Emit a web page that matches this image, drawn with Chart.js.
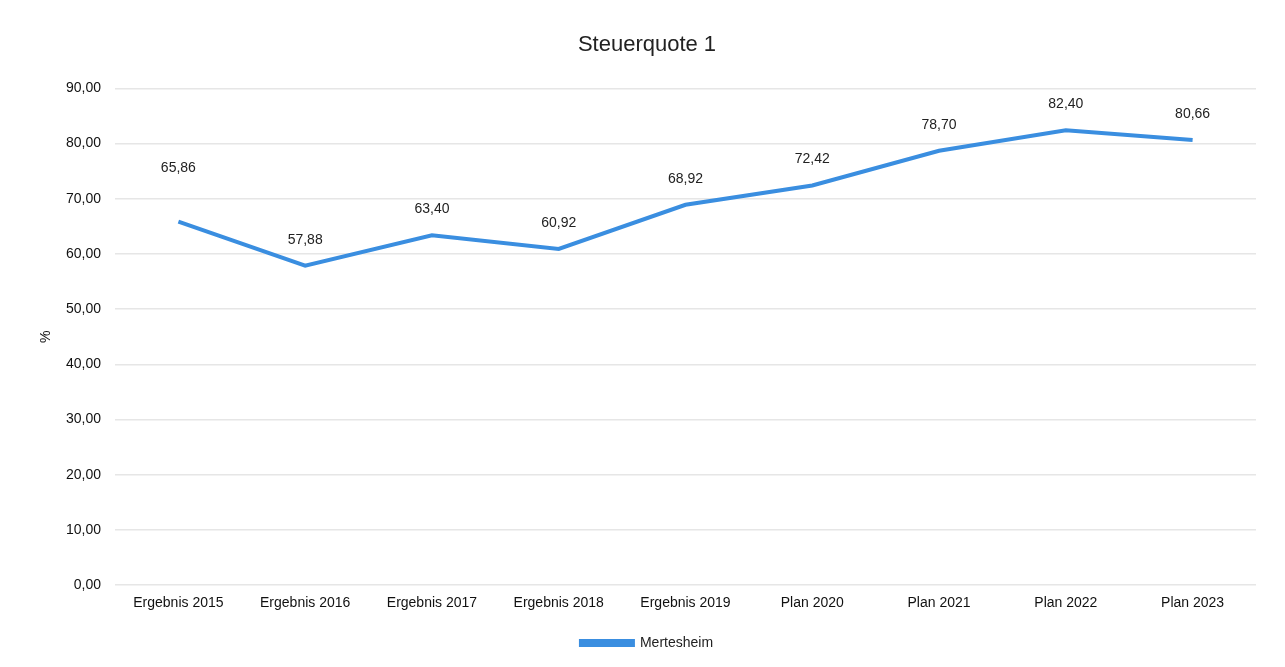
<!DOCTYPE html>
<html>
<head>
<meta charset="utf-8">
<script src="https://cdn.jsdelivr.net/npm/chart.js@4/dist/chart.umd.min.js"></script>
<style>
  html, body { margin: 0; padding: 0; background: #fff; }
  #wrap { width: 1285px; height: 667px; }
</style>
</head>
<body>
<div id="wrap"><canvas id="chart"></canvas></div>
<script>
const categories = [
  'Ergebnis 2015', 'Ergebnis 2016', 'Ergebnis 2017', 'Ergebnis 2018', 'Ergebnis 2019',
  'Plan 2020', 'Plan 2021', 'Plan 2022', 'Plan 2023',
];
const mertesheim = [65.86, 57.88, 63.40, 60.92, 68.92, 72.42, 78.70, 82.40, 80.66];
const seriesName = 'Mertesheim';
const LINE_COLOR = '#3a8ee0';
const FONT = '"Liberation Sans", Arial, sans-serif';

function fmt(v) {
  return v.toFixed(2).replace('.', ',');
}

// value labels above the points (the first one sits higher, like in the original)
const valueLabels = {
  id: 'valueLabels',
  afterDatasetsDraw(chart) {
    const ctx = chart.ctx;
    const meta = chart.getDatasetMeta(0);
    ctx.save();
    ctx.font = '14px ' + FONT;
    ctx.fillStyle = '#222';
    ctx.textAlign = 'center';
    ctx.textBaseline = 'middle';
    meta.data.forEach((pt, i) => {
      ctx.fillText(fmt(mertesheim[i]), pt.x, pt.y - (i === 0 ? 54 : 26));
    });
    ctx.restore();
  },
};

new Chart(document.getElementById('chart'), {
  type: 'line',
  data: {
    labels: categories,
    datasets: [{
      label: seriesName,
      data: mertesheim,
      borderColor: LINE_COLOR,
      backgroundColor: LINE_COLOR,
      borderWidth: 4,
      pointRadius: 0,
      tension: 0,
    }],
  },
  options: {
    responsive: true,
    maintainAspectRatio: false,
    animation: false,
    layout: { padding: { left: 38, right: 29, top: 14, bottom: 7 } },
    plugins: {
      title: {
        display: true,
        text: 'Steuerquote 1',
        color: '#222',
        font: { family: FONT, size: 22, weight: 'normal' },
        padding: { top: 18, bottom: 30 },
      },
      legend: {
        position: 'bottom',
        labels: {
          boxWidth: 52,
          boxHeight: 4,
          color: '#222',
          font: { family: FONT, size: 14 },
          padding: 17,
        },
      },
      tooltip: { enabled: false },
    },
    scales: {
      x: {
        offset: true,
        afterFit(scale) { scale.height += 5; },
        grid: { display: false },
        border: { display: false },
        ticks: {
          color: '#111',
          font: { family: FONT, size: 14 },
          maxRotation: 0,
          padding: 2,
        },
      },
      y: {
        min: 0,
        max: 90,
        afterFit(scale) { scale.width = 77; },
        grid: { color: '#e6e6e6', lineWidth: 1.5, drawTicks: false },
        border: { display: false },
        ticks: {
          stepSize: 10,
          color: '#111',
          font: { family: FONT, size: 14 },
          padding: 14,
          callback: v => fmt(v),
        },
        title: {
          display: true,
          text: '%',
          color: '#111',
          font: { family: FONT, size: 14 },
          padding: 0,
        },
      },
    },
  },
  plugins: [valueLabels],
});
</script>
</body>
</html>
